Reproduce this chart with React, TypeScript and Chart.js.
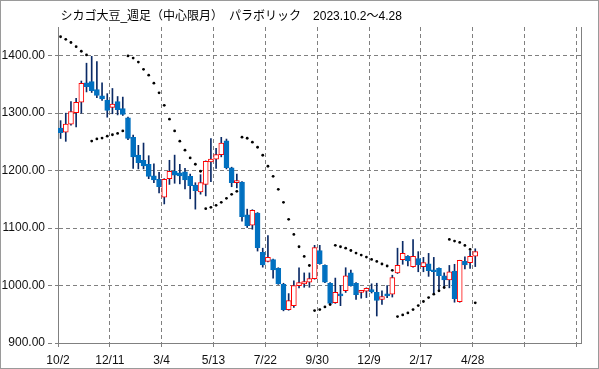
import React, { useEffect, useRef } from "react";
import { Chart, registerables } from "chart.js";

Chart.register(...registerables);

const titleText = "\u2009シカゴ大豆_週足（中心限月）　パラボリック　2023.10.2～4.28";

const opens = [
  1274, 1267, 1281, 1301, 1319, 1353, 1355, 1341, 1330, 1323,
  1310, 1320, 1308, 1292, 1258, 1227, 1218, 1211, 1191, 1185,
  1154, 1186, 1199, 1196, 1198, 1190, 1175, 1163, 1176, 1215,
  1220, 1228, 1252, 1205, 1179, 1180, 1123, 1105, 1126, 1058,
  1042, 1045, 1030, 1002, 958, 965, 1000, 1003, 1006, 1012,
  1061, 1035, 1004, 970, 985, 991, 1022, 1004, 988, 990,
  993, 988, 976, 985, 985, 1022, 1045, 1051, 1033, 1047,
  1033, 1038, 1027, 1030, 1017, 1010, 1025, 972, 1042, 1040,
  1051,
];
const highs = [
  1287, 1300, 1320, 1326, 1356, 1387, 1399, 1390, 1353, 1334,
  1343, 1329, 1328, 1293, 1262, 1244, 1248, 1226, 1212, 1197,
  1186, 1218, 1227, 1211, 1204, 1194, 1179, 1193, 1217, 1256,
  1239, 1258, 1255, 1206, 1194, 1181, 1133, 1132, 1127, 1065,
  1087, 1046, 1031, 1004, 986, 1008, 1031, 1022, 1022, 1070,
  1070, 1036, 1005, 1013, 1000, 1031, 1027, 1005, 991, 996,
  1003, 1004, 991, 1000, 1018, 1065, 1077, 1052, 1080, 1059,
  1049, 1056, 1049, 1031, 1022, 1035, 1037, 1044, 1050, 1060,
  1064,
];
const lows = [
  1256, 1251, 1279, 1276, 1300, 1337, 1336, 1327, 1322, 1293,
  1299, 1297, 1296, 1254, 1204, 1203, 1203, 1186, 1179, 1161,
  1142, 1176, 1178, 1177, 1168, 1151, 1133, 1159, 1156, 1181,
  1204, 1224, 1203, 1172, 1170, 1112, 1101, 1098, 1060, 1032,
  1041, 1013, 1002, 956, 957, 962, 996, 997, 997, 1011,
  1037, 1005, 967, 969, 965, 988, 999, 976, 978, 979,
  987, 947, 967, 979, 980, 1021, 1037, 1034, 1032, 1024,
  1024, 1016, 987, 992, 997, 996, 971, 971, 1029, 1030,
  1033,
];
const closes = [
  1266, 1281, 1303, 1319, 1352, 1346, 1339, 1331, 1325, 1305,
  1316, 1306, 1298, 1256, 1224, 1214, 1208, 1190, 1184, 1172,
  1185, 1199, 1192, 1191, 1184, 1174, 1165, 1179, 1216, 1220,
  1228, 1248, 1205, 1179, 1180, 1120, 1104, 1131, 1066, 1036,
  1049, 1027, 1003, 958, 974, 1000, 1005, 1007, 1012, 1066,
  1038, 1006, 969, 988, 982, 1017, 1000, 984, 990, 995,
  989, 974, 981, 982, 1014, 1035, 1056, 1043, 1051, 1036,
  1040, 1026, 1024, 1017, 1010, 1024, 977, 1044, 1036, 1051,
  1059,
];
const sar = [
  1433, 1428.5, 1423, 1415.7, 1407.8, 1401.4, 1251.5, 1255.2, 1256.7, 1259.9,
  1262.5, 1264.8, 1269.2, 1399.7, 1395.9, 1388.9, 1376.4, 1366.2, 1352.3, 1335.4,
  1313.7, 1289.6, 1269.2, 1251.2, 1235.7, 1222.1, 1211.1, 1198.9, 1133.8, 1136.1,
  1139.6, 1144.8, 1151.8, 1158.8, 1164, 1258.2, 1256.4, 1249.5, 1240.7, 1226.8,
  1207.6, 1190.1, 1167.5, 1144.8, 1115.2, 1089, 1067.5, 1050.6, 1034.9, 956.5,
  958.2, 962.8, 966.9, 1070, 1067.5, 1065, 1061, 1056.5, 1053, 1049.5,
  1045.5, 1042, 1037.5, 1034, 1026.5, 946, 948.9, 952.4, 958.2, 965.2,
  972.2, 979.1, 985, 990.8, 996.6, 1080.3, 1077.4, 1075, 1069.8, 1062.8,
  970,
];
const xTickPos = [0, 10, 20, 30, 40, 50, 60, 70, 80, 90, 100];
const xTickLabels = ["10/2", "12/11", "3/4", "5/13", "7/22", "9/30", "12/9", "2/17", "4/28", "", ""];
const yTicks = [900, 1000, 1100, 1200, 1300, 1400];

const FONT = "'Liberation Sans', 'Noto Sans CJK JP', sans-serif";

export default function App() {
  const ref = useRef<HTMLCanvasElement>(null);

  useEffect(() => {
    const canvas = ref.current;
    if (!canvas) return;
    const up = opens.map((o, i) => closes[i] >= o);
    const frame = {
      id: "frame",
      afterDraw(c: any) {
        const g = c.ctx;
        g.save();
        g.strokeStyle = "#9a9a9a";
        g.lineWidth = 1;
        g.strokeRect(0.5, 0.5, c.width - 1, c.height - 1);
        g.restore();
      },
    };
    const chart = new Chart(canvas, {
      type: "bar",
      data: {
        datasets: [
          {
            type: "line",
            label: "SAR",
            data: sar.map((v, i) => ({ x: i + 0.5, y: v })),
            showLine: false,
            pointRadius: 1.4,
            pointBackgroundColor: "#000",
            pointBorderWidth: 0,
            order: 1,
          } as any,
          {
            type: "bar",
            label: "body",
            data: opens.map((o, i) => ({ x: i + 0.5, y: [o, closes[i]] })),
            backgroundColor: up.map((u) => (u ? "#ffffff" : "#0070c0")),
            borderColor: up.map((u) => (u ? "#ff0000" : "#0070c0")),
            borderWidth: 1,
            borderSkipped: false,
            barThickness: 5,
            grouped: false,
            minBarLength: 2,
            order: 2,
          } as any,
          {
            type: "bar",
            label: "wick",
            data: lows.map((l, i) => ({ x: i + 0.5, y: [l, highs[i]] })),
            backgroundColor: "#0a2a66",
            borderWidth: 0,
            barThickness: 1,
            grouped: false,
            order: 3,
          } as any,
        ],
      },
      options: {
        responsive: false,
        animation: false,
        devicePixelRatio: 1,
        layout: { padding: { left: 0, right: 18, top: 0, bottom: 0 } },
        font: { family: FONT, size: 12 },
        plugins: {
          legend: { display: false },
          tooltip: { enabled: false },
          title: {
            display: true,
            text: titleText,
            align: "start",
            fullSize: false,
            color: "#000",
            font: { family: FONT, size: 12, weight: "normal" },
            padding: { top: 9, bottom: 3.6 },
          },
        },
        scales: {
          x: {
            type: "linear",
            offset: false,
            min: 0,
            max: 100.9,
            afterBuildTicks: (s: any) => {
              s.ticks = xTickPos.map((v) => ({ value: v }));
            },
            afterFit: (s: any) => {
              s.height = 26;
            },
            ticks: {
              autoSkip: false,
              maxRotation: 0,
              padding: 6,
              color: "#111",
              font: { family: FONT, size: 12 },
              callback: (_v: any, i: number) => xTickLabels[i],
            },
            grid: { offset: false, color: "#808080", tickLength: 4, tickColor: "#808080" },
            border: { color: "#808080", dash: [4, 3] },
          },
          y: {
            type: "linear",
            position: "left",
            min: 900,
            max: 1450,
            afterBuildTicks: (s: any) => {
              s.ticks = yTicks.map((v) => ({ value: v }));
            },
            afterFit: (s: any) => {
              s.width = 58;
            },
            ticks: {
              padding: 3,
              color: "#111",
              font: { family: FONT, size: 12 },
              callback: (v: any) => Number(v).toFixed(2),
            },
            grid: { color: "#808080", tickLength: 10, tickColor: "#808080", tickBorderDash: [4, 3] },
            border: { color: "#808080", dash: [4, 3] },
          },
          y2: {
            type: "linear",
            position: "right",
            min: 900,
            max: 1450,
            ticks: { display: false },
            grid: { drawOnChartArea: false, drawTicks: false },
            border: { color: "#808080" },
            afterFit: (s: any) => {
              s.width = 0;
            },
          },
        },
      } as any,
      plugins: [frame],
    });
    return () => chart.destroy();
  }, []);

  return (
    <div style={{ position: "fixed", left: 0, top: 0, width: 599, height: 369, background: "#fff" }}>
      <canvas ref={ref} width={599} height={369} style={{ display: "block" }} />
    </div>
  );
}
